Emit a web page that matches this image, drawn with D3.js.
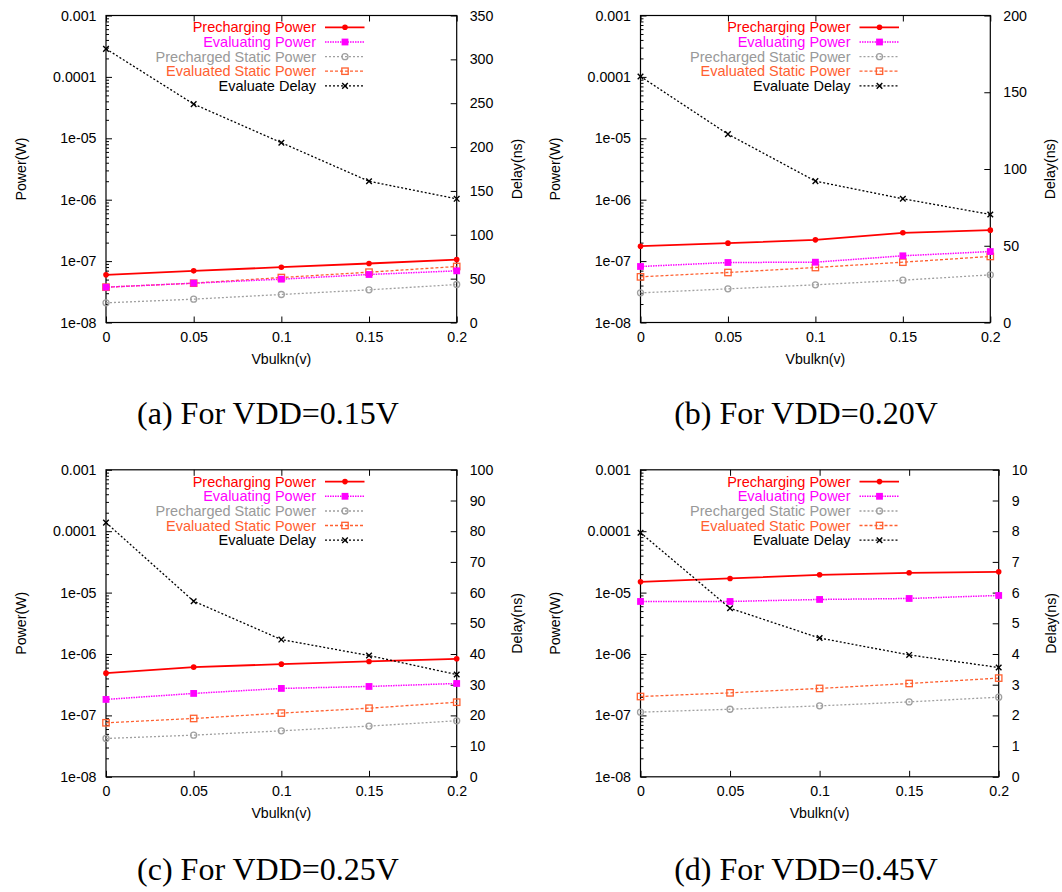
<!DOCTYPE html>
<html>
<head>
<meta charset="utf-8">
<script src="https://cdn.jsdelivr.net/npm/d3@7"></script>
<style>
  html, body { margin: 0; padding: 0; background: #fff; }
  svg { display: block; }
  .tick text { font-family: "Liberation Sans", Arial, Helvetica, sans-serif; }
</style>
</head>
<body>
<svg id="chart" width="1062" height="892"></svg>
<script>
// Bulk voltage sweep (x axis)
const vbulk = [0, 0.05, 0.1, 0.15, 0.2];
const xTickLabels = ["0", "0.05", "0.1", "0.15", "0.2"];
const powerTicks = [1e-3, 1e-4, 1e-5, 1e-6, 1e-7, 1e-8];
const powerTickLabels = ["0.001", "0.0001", "1e-05", "1e-06", "1e-07", "1e-08"];
const seriesNames = ["Precharging Power", "Evaluating Power", "Precharged Static Power", "Evaluated Static Power", "Evaluate Delay"];
const captions = ["(a) For VDD=0.15V", "(b) For VDD=0.20V", "(c) For VDD=0.25V", "(d) For VDD=0.45V"];

// (a) VDD = 0.15 V
const a_precharging = [5.97e-8, 6.94e-8, 7.96e-8, 9.14e-8, 1.06e-7];
const a_evaluating = [3.76e-8, 4.37e-8, 5.08e-8, 6.05e-8, 6.94e-8];
const a_prechargedStatic = [2.09e-8, 2.40e-8, 2.86e-8, 3.40e-8, 4.16e-8];
const a_evaluatedStatic = [3.76e-8, 4.37e-8, 5.40e-8, 6.60e-8, 8.17e-8];
const a_delay = [312, 249, 205, 161, 141];
const a_delayTicks = [0, 50, 100, 150, 200, 250, 300, 350];

// (b) VDD = 0.20 V
const b_precharging = [1.75e-7, 1.96e-7, 2.22e-7, 2.89e-7, 3.19e-7];
const b_evaluating = [8.17e-8, 9.49e-8, 9.60e-8, 1.22e-7, 1.43e-7];
const b_prechargedStatic = [3.04e-8, 3.53e-8, 4.11e-8, 4.89e-8, 5.97e-8];
const b_evaluatedStatic = [5.54e-8, 6.52e-8, 7.86e-8, 9.60e-8, 1.19e-7];
const b_delay = [160.3, 122.7, 92.1, 80.6, 70.4];
const b_delayTicks = [0, 50, 100, 150, 200];

// (c) VDD = 0.25 V
const c_precharging = [4.88e-7, 6.11e-7, 6.84e-7, 7.56e-7, 8.35e-7];
const c_evaluating = [1.82e-7, 2.28e-7, 2.75e-7, 2.96e-7, 3.31e-7];
const c_prechargedStatic = [4.21e-8, 4.77e-8, 5.61e-8, 6.69e-8, 8.17e-8];
const c_evaluatedStatic = [7.58e-8, 8.91e-8, 1.09e-7, 1.31e-7, 1.64e-7];
const c_delay = [82.8, 57.2, 44.7, 39.5, 33.3];
const c_delayTicks = [0, 10, 20, 30, 40, 50, 60, 70, 80, 90, 100];

// (d) VDD = 0.45 V
const d_precharging = [1.50e-5, 1.70e-5, 1.95e-5, 2.10e-5, 2.18e-5];
const d_evaluating = [7.17e-6, 7.17e-6, 7.73e-6, 8.02e-6, 8.98e-6];
const d_prechargedStatic = [1.13e-7, 1.26e-7, 1.43e-7, 1.66e-7, 1.98e-7];
const d_evaluatedStatic = [2.03e-7, 2.33e-7, 2.75e-7, 3.31e-7, 4.05e-7];
const d_delay = [7.95, 5.49, 4.52, 3.97, 3.56];
const d_delayTicks = [0, 1, 2, 3, 4, 5, 6, 7, 8, 9, 10];

const SANS = '"Liberation Sans", Arial, Helvetica, sans-serif';
const SERIF = '"Liberation Serif", "Times New Roman", Times, serif';

// Line / marker styles for the five series
const styles = [
  { color: "#ff0000", text: "#ff0000", dash: null, width: 1.8, marker: "dot" },
  { color: "#ff00ff", text: "#ff00ff", dash: "1.5,1", width: 1.5, marker: "fsquare" },
  { color: "#a0a0a0", text: "#999999", dash: "2,2", width: 1.3, marker: "ocircle" },
  { color: "#ff6030", text: "#ff6030", dash: "3,2", width: 1.3, marker: "osquare" },
  { color: "#000000", text: "#000000", dash: "2,2", width: 1.3, marker: "cross" }
];

const panels = [
  { box: { left: 106, right: 456.7, top: 15.5, bottom: 322.5 },
    series: [a_precharging, a_evaluating, a_prechargedStatic, a_evaluatedStatic],
    delay: a_delay, delayTicks: a_delayTicks, delayLabelDx: 60, caption: captions[0], capX: 268, capY: 424 },
  { box: { left: 640.5, right: 990.3, top: 15.5, bottom: 322.5 },
    series: [b_precharging, b_evaluating, b_prechargedStatic, b_evaluatedStatic],
    delay: b_delay, delayTicks: b_delayTicks, delayLabelDx: 60, caption: captions[1], capX: 806, capY: 424 },
  { box: { left: 106, right: 456.7, top: 469.8, bottom: 776.8 },
    series: [c_precharging, c_evaluating, c_prechargedStatic, c_evaluatedStatic],
    delay: c_delay, delayTicks: c_delayTicks, delayLabelDx: 60, caption: captions[2], capX: 268, capY: 880 },
  { box: { left: 640.5, right: 998.7, top: 469.8, bottom: 776.8 },
    series: [d_precharging, d_evaluating, d_prechargedStatic, d_evaluatedStatic],
    delay: d_delay, delayTicks: d_delayTicks, delayLabelDx: 52.5, caption: captions[3], capX: 806, capY: 880 }
];

const svg = d3.select("#chart");

function drawMarker(g, kind, x, y, st) {
  if (kind === "dot") {
    g.append("circle").attr("cx", x).attr("cy", y).attr("r", 2.8).attr("fill", st.color);
  } else if (kind === "fsquare") {
    g.append("rect").attr("x", x - 3.4).attr("y", y - 3.4).attr("width", 6.8).attr("height", 6.8).attr("fill", st.color);
  } else if (kind === "ocircle") {
    g.append("circle").attr("cx", x).attr("cy", y).attr("r", 3).attr("fill", "none")
      .attr("stroke", st.color).attr("stroke-width", 1.3);
  } else if (kind === "osquare") {
    g.append("rect").attr("x", x - 3.2).attr("y", y - 3.2).attr("width", 6.4).attr("height", 6.4).attr("fill", "none")
      .attr("stroke", st.color).attr("stroke-width", 1.3);
  } else if (kind === "cross") {
    const s = 2.8;
    g.append("path").attr("d", `M${x - s},${y - s}L${x + s},${y + s}M${x - s},${y + s}L${x + s},${y - s}`)
      .attr("stroke", st.color).attr("stroke-width", 1.4).attr("fill", "none");
  }
}

function drawPanel(p) {
  const b = p.box;
  const g = svg.append("g");
  const x = d3.scaleLinear().domain([0, 0.2]).range([b.left, b.right]);
  const y = d3.scaleLog().domain([1e-8, 1e-3]).range([b.bottom, b.top]);
  const yMax = p.delayTicks[p.delayTicks.length - 1];
  const y2 = d3.scaleLinear().domain([0, yMax]).range([b.bottom, b.top]);

  const styleAxis = sel => {
    sel.select(".domain").remove();
    sel.selectAll(".tick line").attr("stroke", "#000").attr("stroke-width", 1);
    sel.selectAll(".tick text").attr("font-size", 14.2).attr("fill", "#000").attr("font-family", SANS);
  };

  // bottom x axis with labels
  g.append("g").attr("transform", `translate(0,${b.bottom})`)
    .call(d3.axisBottom(x).tickValues(vbulk).tickFormat((d, i) => xTickLabels[i]).tickSize(-6).tickPadding(9))
    .call(styleAxis);
  // mirrored x ticks on top
  g.append("g").attr("transform", `translate(0,${b.top})`)
    .call(d3.axisTop(x).tickValues(vbulk).tickFormat("").tickSize(-6))
    .call(styleAxis);

  // left log axis, major
  g.append("g").attr("transform", `translate(${b.left},0)`)
    .call(d3.axisLeft(y).tickValues(powerTicks).tickFormat((d, i) => powerTickLabels[i]).tickSize(-6).tickPadding(9.5))
    .call(styleAxis);
  // left log axis, minor (2..9 per decade)
  const minor = [];
  for (let e = -8; e < -3; e++) for (let m = 2; m <= 9; m++) minor.push(m * Math.pow(10, e));
  g.append("g").attr("transform", `translate(${b.left},0)`)
    .call(d3.axisLeft(y).tickValues(minor).tickFormat("").tickSize(-3))
    .call(styleAxis);

  // right delay axis
  g.append("g").attr("transform", `translate(${b.right},0)`)
    .call(d3.axisRight(y2).tickValues(p.delayTicks).tickFormat(d3.format("d")).tickSize(-6).tickPadding(13))
    .call(styleAxis);

  // frame
  g.append("rect").attr("x", b.left).attr("y", b.top).attr("width", b.right - b.left).attr("height", b.bottom - b.top)
    .attr("fill", "none").attr("stroke", "#000").attr("stroke-width", 1.2);

  // axis titles
  const midY = (b.top + b.bottom) / 2;
  g.append("text").attr("transform", `translate(${b.left - 80.5},${midY}) rotate(-90)`)
    .attr("text-anchor", "middle").attr("font-family", SANS).attr("font-size", 14.2).text("Power(W)");
  g.append("text").attr("transform", `translate(${b.right + p.delayLabelDx + 5},${midY}) rotate(-90)`)
    .attr("text-anchor", "middle").attr("font-family", SANS).attr("font-size", 14.2).text("Delay(ns)");
  g.append("text").attr("x", (b.left + b.right) / 2).attr("y", b.bottom + 41.5)
    .attr("text-anchor", "middle").attr("font-family", SANS).attr("font-size", 14.2).text("Vbulkn(v)");

  // series (drawn bottom-up so the red line stays on top)
  const order = [2, 3, 1, 0];
  order.forEach(si => {
    const st = styles[si];
    const vals = p.series[si];
    const line = d3.line().x((d, i) => x(vbulk[i])).y(d => y(d));
    g.append("path").datum(vals).attr("d", line).attr("fill", "none")
      .attr("stroke", st.color).attr("stroke-width", st.width)
      .attr("stroke-dasharray", st.dash);
    vals.forEach((v, i) => drawMarker(g, st.marker, x(vbulk[i]), y(v), st));
  });
  // delay series on the right axis
  {
    const st = styles[4];
    const line = d3.line().x((d, i) => x(vbulk[i])).y(d => y2(d));
    g.append("path").datum(p.delay).attr("d", line).attr("fill", "none")
      .attr("stroke", st.color).attr("stroke-width", st.width).attr("stroke-dasharray", st.dash);
    p.delay.forEach((v, i) => drawMarker(g, st.marker, x(vbulk[i]), y2(v), st));
  }

  // legend
  const lg = g.append("g");
  const rowDy = [11.8, 26.5, 41.2, 55.7, 70.4];
  seriesNames.forEach((name, i) => {
    const st = styles[i];
    const ry = b.top + rowDy[i];
    lg.append("text").attr("x", b.left + 210).attr("y", ry + 5).attr("text-anchor", "end")
      .attr("font-family", SANS).attr("font-size", 14.5).attr("fill", st.text).text(name);
    lg.append("line").attr("x1", b.left + 219).attr("x2", b.left + 258.5).attr("y1", ry).attr("y2", ry)
      .attr("stroke", st.color).attr("stroke-width", st.width).attr("stroke-dasharray", st.dash);
    drawMarker(lg, st.marker, b.left + 239, ry, st);
  });

  // caption
  svg.append("text").attr("x", p.capX).attr("y", p.capY).attr("text-anchor", "middle")
    .attr("font-family", SERIF).attr("font-size", 32).attr("fill", "#000").text(p.caption);
}

panels.forEach(drawPanel);
</script>
</body>
</html>
